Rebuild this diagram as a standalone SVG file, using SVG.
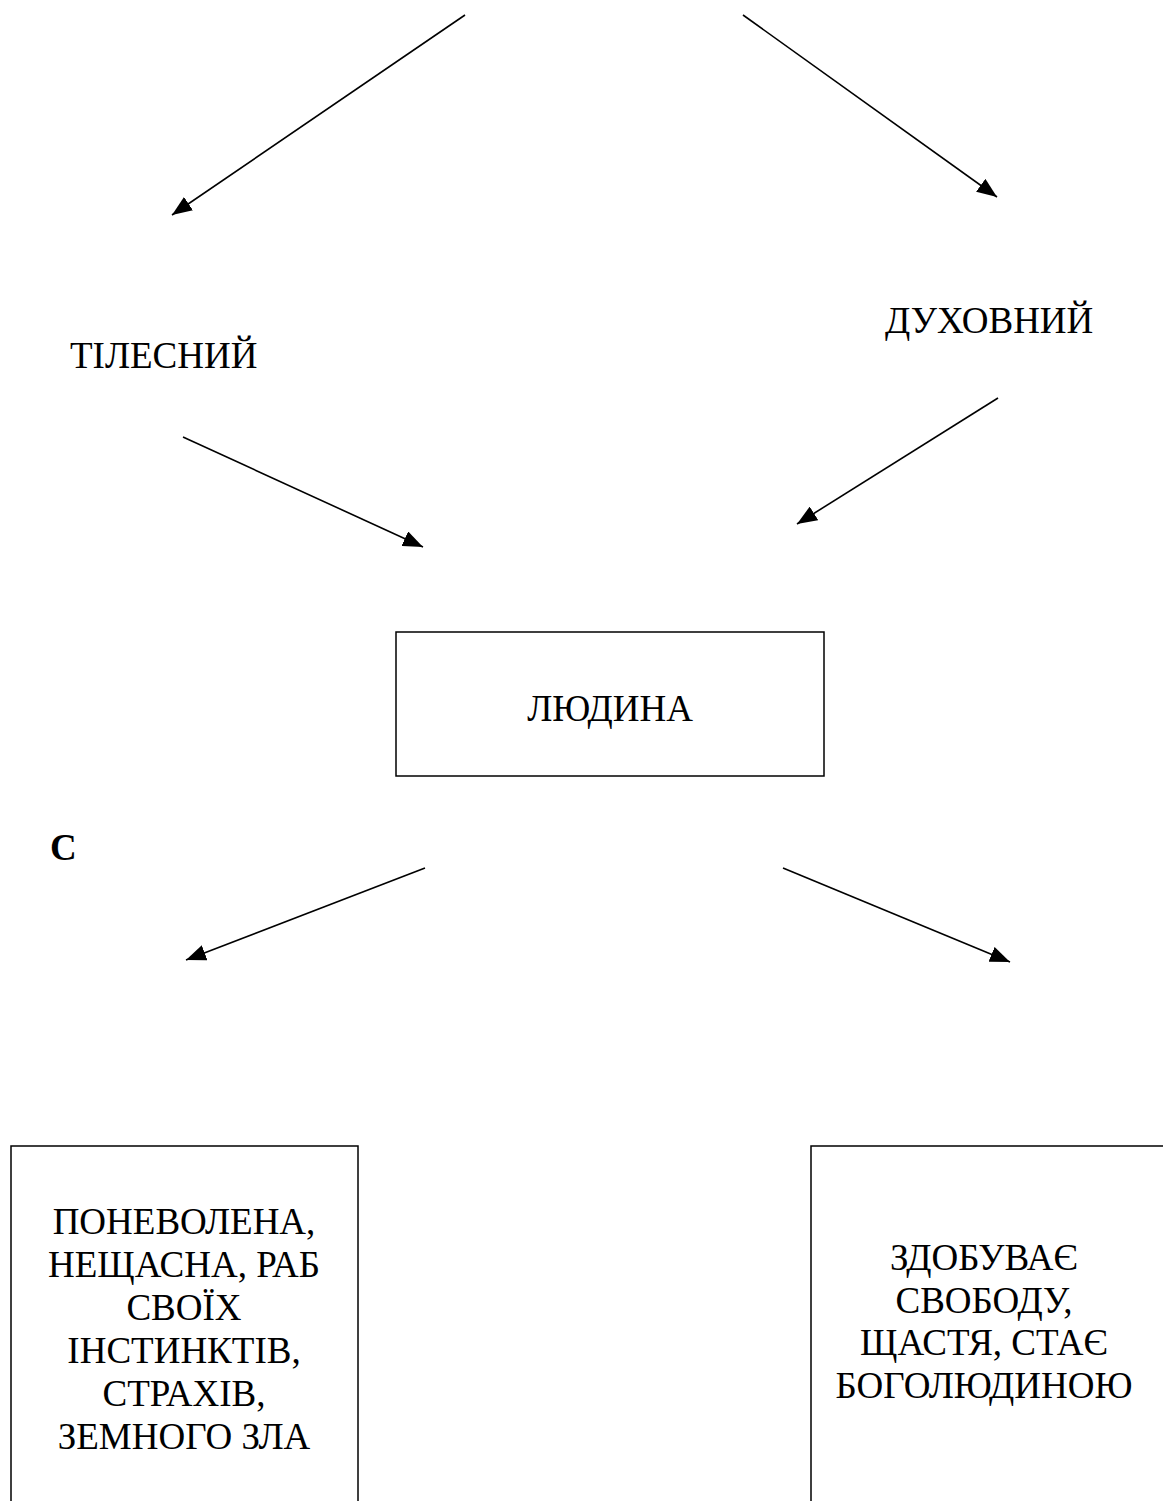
<svg xmlns="http://www.w3.org/2000/svg" width="1163" height="1501" viewBox="0 0 1163 1501">
<style>
text{font-family:"Liberation Serif","Times New Roman",serif;font-size:37px;fill:#000}
.c{text-anchor:middle}
.box{fill:#fff;stroke:#000;stroke-width:1.5}
.ln{stroke:#000;stroke-width:1.6;fill:none}
</style>
<defs>
<marker id="ah" markerUnits="userSpaceOnUse" markerWidth="22" markerHeight="16" refX="20" refY="8" orient="auto">
<path d="M0,0 L20,8 L0,16 Z" fill="#000"/>
</marker>
</defs>
<rect width="1163" height="1501" fill="#fff"/>
<g id="connectors">
<line class="ln" x1="465" y1="15" x2="172" y2="215" marker-end="url(#ah)"/>
<line class="ln" x1="743" y1="15" x2="997" y2="197" marker-end="url(#ah)"/>
<line class="ln" x1="183" y1="437" x2="423" y2="547" marker-end="url(#ah)"/>
<line class="ln" x1="998" y1="398" x2="797" y2="524" marker-end="url(#ah)"/>
<line class="ln" x1="425" y1="868" x2="186" y2="960" marker-end="url(#ah)"/>
<line class="ln" x1="783" y1="868" x2="1010" y2="962" marker-end="url(#ah)"/>
</g>
<g id="tilesnyi"><text x="70" y="368">ТІЛЕСНИЙ</text></g>
<g id="dukhovnyi"><text x="885" y="333">ДУХОВНИЙ</text></g>
<g id="lyudyna">
<rect class="box" x="396" y="632" width="428" height="144"/>
<text class="c" x="610" y="721">ЛЮДИНА</text>
</g>
<g id="label-c"><text x="50" y="860" font-weight="bold">С</text></g>
<g id="ponevolena">
<rect class="box" x="11" y="1146" width="347" height="370"/>
<text class="c" x="184" y="1234">ПОНЕВОЛЕНА,</text>
<text class="c" x="184" y="1277">НЕЩАСНА, РАБ</text>
<text class="c" x="184" y="1320">СВОЇХ</text>
<text class="c" x="184" y="1363">ІНСТИНКТІВ,</text>
<text class="c" x="184" y="1406">СТРАХІВ,</text>
<text class="c" x="184" y="1449">ЗЕМНОГО ЗЛА</text>
</g>
<g id="zdobuvaie">
<rect class="box" x="811" y="1146" width="370" height="370"/>
<text class="c" x="984" y="1270">ЗДОБУВАЄ</text>
<text class="c" x="984" y="1313">СВОБОДУ,</text>
<text class="c" x="984" y="1355">ЩАСТЯ, СТАЄ</text>
<text class="c" x="984" y="1398">БОГОЛЮДИНОЮ</text>
</g>
</svg>
